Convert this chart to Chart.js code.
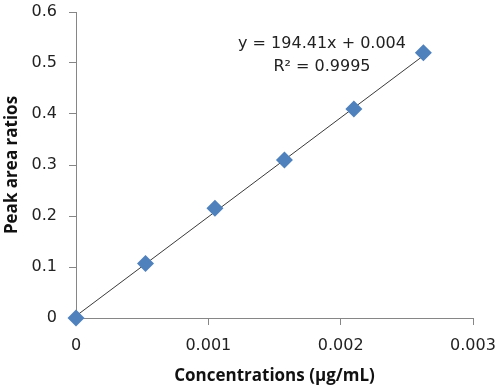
<!DOCTYPE html>
<html>
<head>
<meta charset="utf-8">
<script src="https://cdn.jsdelivr.net/npm/chart.js@4"></script>
<style>
  html,body{margin:0;padding:0;background:#fff;}
  #wrap{width:500px;height:387px;position:relative;}
</style>
</head>
<body>
<div id="wrap"><canvas id="calib" width="500" height="387"></canvas></div>
<script>
// calibration points
const concentrations = [0, 0.000525, 0.00105, 0.001575, 0.0021, 0.002625];
const peakRatios     = [0, 0.107, 0.215, 0.31, 0.41, 0.52];
// linear fit drawn from first to last standard
const trendX = [0, 0.002625];
const trendY = [0.004, 0.5143];
const xTicks = [0, 0.001, 0.002, 0.003];
const yTicks = [0, 0.1, 0.2, 0.3, 0.4, 0.5, 0.6];
const eqLines = ['y = 194.41x + 0.004', 'R² = 0.9995'];

const TICKFONT = '"DejaVu Sans", sans-serif';
const TITLEFONT = '"Open Sans", sans-serif';
const axisGray = '#868686';

const eqLabel = {
  id:'eqLabel',
  afterDatasetsDraw(chart){
    const c = chart.ctx;
    c.save();
    c.font = '16px ' + TICKFONT;
    c.fillStyle = '#222';
    c.textAlign = 'center';
    c.textBaseline = 'middle';
    c.fillText(eqLines[0], 322, 44);
    c.fillText(eqLines[1], 322, 67);
    c.restore();
  }
};

new Chart(document.getElementById('calib'), {
  type:'scatter',
  data:{
    datasets:[
      { label:'Linear', type:'line',
        data:trendX.map((x,i)=>({x, y:trendY[i]})),
        borderColor:'#3a3a3a', borderWidth:1, pointRadius:0, fill:false, order:2 },
      { label:'Standards',
        data:concentrations.map((x,i)=>({x, y:peakRatios[i]})),
        pointStyle:'rectRot', pointRadius:8.5, pointHoverRadius:8.5, clip:false,
        backgroundColor:'#4F81BD', borderColor:'#4F81BD', borderWidth:0, order:1 }
    ]
  },
  options:{
    responsive:false, animation:false, devicePixelRatio:1,
    layout:{ padding:{ left:0, right:27, top:12, bottom:0 } },
    plugins:{ legend:{display:false}, tooltip:{enabled:false} },
    scales:{
      x:{
        type:'linear', min:0, max:0.003,
        afterBuildTicks(s){ s.ticks = xTicks.map(v=>({value:v})); },
        afterFit(s){ s.height = 69; s.paddingLeft = 0; s.paddingRight = 0; },
        ticks:{ color:'#222', padding:11, maxRotation:0, font:{family:TICKFONT, size:16},
                callback:v=>String(v) },
        grid:{ drawOnChartArea:false, color:axisGray, tickLength:7 },
        border:{ color:axisGray, width:1 },
        title:{ display:true, text:'Concentrations (µg/mL)', color:'#111',
                font:{family:TITLEFONT, size:17, weight:'bold'}, padding:{top:0,bottom:1} }
      },
      y:{
        type:'linear', min:0, max:0.6,
        afterBuildTicks(s){ s.ticks = yTicks.map(v=>({value:v})); },
        afterFit(s){ s.width = 76; s.paddingTop = 0; s.paddingBottom = 0; },
        ticks:{ color:'#222', padding:12, font:{family:TICKFONT, size:16},
                callback:v=>String(v) },
        grid:{ drawOnChartArea:false, color:axisGray, tickLength:7 },
        border:{ color:axisGray, width:1 },
        title:{ display:true, text:'Peak area ratios', color:'#111',
                font:{family:TITLEFONT, size:17, weight:'bold'}, padding:{top:2,bottom:0} }
      }
    }
  },
  plugins:[eqLabel]
});
</script>
</body>
</html>
